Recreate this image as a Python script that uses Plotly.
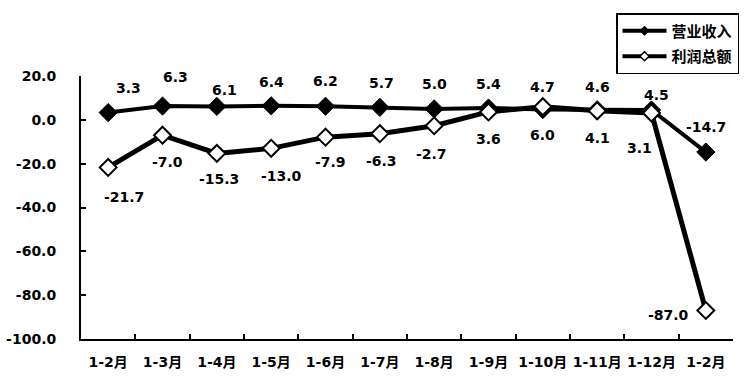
import plotly.graph_objects as go

categories = ["1-2月", "1-3月", "1-4月", "1-5月", "1-6月", "1-7月", "1-8月", "1-9月",
              "1-10月", "1-11月", "1-12月", "1-2月"]
revenue = [3.3, 6.3, 6.1, 6.4, 6.2, 5.7, 5.0, 5.4, 4.7, 4.6, 4.5, -14.7]
profit = [-21.7, -7.0, -15.3, -13.0, -7.9, -6.3, -2.7, 3.6, 6.0, 4.1, 3.1, -87.0]
y_ticks = [20, 0, -20, -40, -60, -80, -100]

# label offsets (pixels) for the data labels
rev_dx = [20, 13, 8, 0, 0, 2, 0, 0, 0, 0, 5, 0]
rev_dy = [25, 29, 16, 24, 25, 24, 25, 24, 23, 23, 15, 25]
pro_dx = [16, 5, 2, 10, 5, 2, -3, 0, 0, 0, -12, -37]
pro_dy = [-30, -27, -26, -28, -25, -27, -28, -27, -28, -27, -35, -4]

FONT = "DejaVu Sans, Noto Sans CJK SC, sans-serif"
BOLD = dict(family=FONT, size=14, color="black", weight="bold")
x = list(range(len(categories)))

fig = go.Figure()
fig.add_trace(go.Scatter(
    x=x, y=revenue, name="营业收入", mode="lines+markers", showlegend=False,
    line=dict(color="black", width=4),
    marker=dict(symbol="diamond", size=14, color="black", line=dict(color="black", width=1)),
))
fig.add_trace(go.Scatter(
    x=x, y=profit, name="利润总额", mode="lines+markers", showlegend=False,
    line=dict(color="black", width=5),
    marker=dict(symbol="diamond", size=13, color="white", line=dict(color="black", width=2)),
))
# legend entries (smaller markers as in the reference legend)
fig.add_trace(go.Scatter(
    x=[None], y=[None], name="营业收入", mode="lines+markers", legendgroup="a",
    line=dict(color="black", width=4),
    marker=dict(symbol="diamond", size=7, color="black", line=dict(color="black", width=1)),
))
fig.add_trace(go.Scatter(
    x=[None], y=[None], name="利润总额", mode="lines+markers", legendgroup="b",
    line=dict(color="black", width=4),
    marker=dict(symbol="diamond", size=7, color="white", line=dict(color="black", width=1.5)),
))

annotations = []
for i in x:
    annotations.append(dict(x=i, y=revenue[i], text=f"{revenue[i]:.1f}", showarrow=False,
                            xshift=rev_dx[i], yshift=rev_dy[i], font=BOLD))
    annotations.append(dict(x=i, y=profit[i], text=f"{profit[i]:.1f}", showarrow=False,
                            xshift=pro_dx[i], yshift=pro_dy[i], font=BOLD))

fig.update_layout(
    width=750, height=381,
    margin=dict(l=81, r=17, t=76, b=42, autoexpand=False),
    plot_bgcolor="white", paper_bgcolor="white",
    font=BOLD,
    annotations=annotations,
    legend=dict(
        x=739 / 750, y=1 - 13 / 381, xref="container", yref="container",
        xanchor="right", yanchor="top",
        bordercolor="black", borderwidth=1.5, bgcolor="white",
        font=dict(family=FONT, size=15, color="black", weight="bold"),
        tracegroupgap=3, itemwidth=44,
    ),
    showlegend=True,
)

fig.update_xaxes(
    type="category", tickmode="array", tickvals=x, ticktext=categories,
    range=[-0.5, len(categories) - 0.5], tickangle=0, automargin=False,
    showline=True, linecolor="black", linewidth=2,
    ticks="inside", ticklen=5, tickwidth=1.5, tickcolor="black",
    tickson="boundaries", showgrid=False, zeroline=False,
    ticklabelstandoff=9, tickfont=BOLD,
)
fig.update_yaxes(
    range=[-100, 20], tickvals=y_ticks, ticktext=[f"{v:.1f}" for v in y_ticks],
    automargin=False,
    showline=True, linecolor="black", linewidth=2,
    ticks="inside", ticklen=5, tickwidth=1.5, tickcolor="black",
    showgrid=False, zeroline=False, ticklabelstandoff=20,
    tickfont=BOLD,
)

fig.write_html("out.html")
